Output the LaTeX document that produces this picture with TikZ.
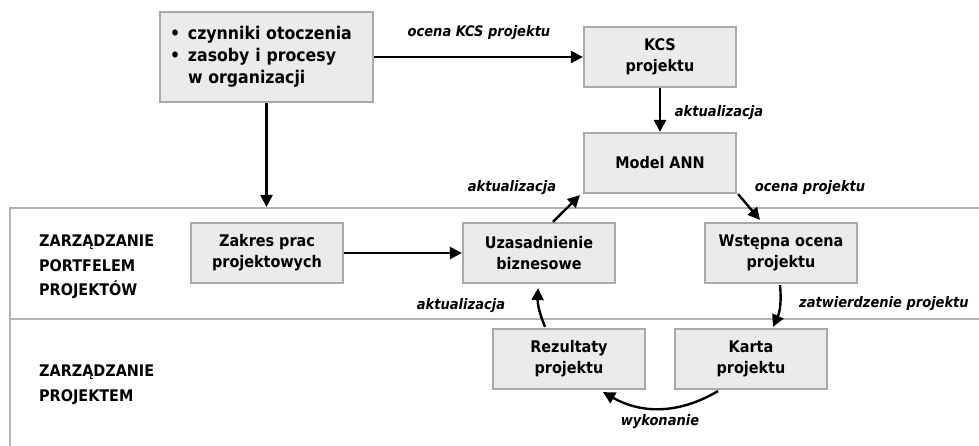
\documentclass[tikz,border=0pt]{standalone}
\usepackage{fontspec}
\setmainfont{DejaVu Sans Condensed}
\usetikzlibrary{arrows.meta,calc}
\definecolor{boxfill}{HTML}{EBEBEB}
\definecolor{boxline}{HTML}{A9A9A9}
\definecolor{laneline}{HTML}{B3B3B3}
\tikzset{
  stepbox/.style={draw=boxline, fill=boxfill, line width=2.2pt, minimum width=152pt, minimum height=60pt, inner sep=0pt, align=center, font=\bfseries\fontsize{16}{21}\selectfont},
  lanetext/.style={anchor=west, align=left, inner sep=0pt, font=\bfseries\fontsize{16}{24.5}\selectfont},
  lbl/.style={inner sep=0pt, font=\bfseries\itshape\fontsize{14.5}{16}\selectfont},
  arr/.style={line width=2.4pt, -{Triangle[length=12pt,width=12pt]}},
}
\begin{document}
\begin{tikzpicture}[x=1pt,y=-1pt]
\useasboundingbox (0,0) rectangle (979,446);
% lanes
\draw[laneline, line width=2.2pt] (980,208) -- (10,208) -- (10,447);
\draw[laneline, line width=2.2pt] (10,319) -- (980,319);
\node[lanetext] (lane1) at (39,267) {ZARZĄDZANIE\\PORTFELEM\\PROJEKTÓW};
\node[lanetext] (lane2) at (39,385) {ZARZĄDZANIE\\PROJEKTEM};
% boxes
\node[stepbox, minimum width=213pt, minimum height=90pt, inner xsep=10pt, text width=193pt, align=left, font=\bfseries\fontsize{17.5}{22}\selectfont] (env) at (266.5,57)
  {\makebox[18pt][l]{•}czynniki otoczenia\\\makebox[18pt][l]{•}zasoby i procesy\\\makebox[18pt][l]{}w organizacji};
\node[stepbox] (kcs) at (660,57) {KCS\\projektu};
\node[stepbox] (ann) at (660,163) {Model ANN};
\node[stepbox] (zakres) at (267,253) {Zakres prac\\projektowych};
\node[stepbox] (uzas) at (539,253) {Uzasadnienie\\biznesowe};
\node[stepbox] (wst) at (781,253) {Wstępna ocena\\projektu};
\node[stepbox] (karta) at (751,359) {Karta\\projektu};
\node[stepbox] (rez) at (569,359) {Rezultaty\\projektu};
% coordinates
\coordinate (laneTop) at (env.south |- 0,207);
% arrows
\draw[arr] (env.east) -- (kcs.west);
\node[lbl] (l1) at (479,33) {ocena KCS projektu};
\draw[arr] (env.south) -- (laneTop);
\draw[arr] (kcs.south) -- (ann.north);
\node[lbl] (l2) at (719,113) {aktualizacja};
\draw[arr] (zakres.east) -- (uzas.west);
\draw[arr] ($(uzas.north)+(14,0)$) -- ($(ann.south west)+(-3,1)$);
\node[lbl] (l3) at (512,188) {aktualizacja};
\draw[arr] ($(ann.south east)+(1,0)$) -- ($(wst.north)+(-21,-2)$);
\node[lbl] (l4) at (810,188) {ocena projektu};
\draw[arr] ($(wst.south)+(-1,1)$) to[bend left=15] ($(karta.north)+(22,-1)$);
\node[lbl] (l5) at (884,304) {zatwierdzenie projektu};
\draw[arr] ($(karta.south)+(-33,1)$) to[bend left=30] ($(rez.south)+(34,2)$);
\node[lbl] (l6) at (660,422) {wykonanie};
\draw[arr] ($(rez.north)+(-24,-1)$) to[bend left=12] ($(uzas.south)+(-1,4)$);
\node[lbl] (l7) at (461,306) {aktualizacja};
\end{tikzpicture}
\end{document}
